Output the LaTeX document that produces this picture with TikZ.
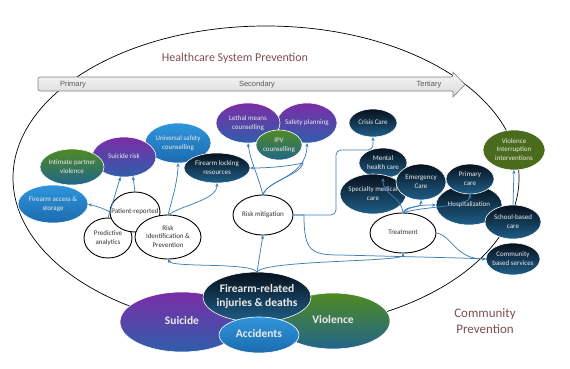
\documentclass[tikz,border=0pt]{standalone}
\usepackage{fontspec}
\setmainfont{Carlito}
\newfontfamily\arialf{Liberation Sans}
\usetikzlibrary{shapes.geometric,arrows.meta,calc}
\definecolor{cblue}{HTML}{3F7FB5}
\definecolor{navyT}{HTML}{07111C}
\definecolor{navyB}{HTML}{1F5E88}
\definecolor{purpT}{HTML}{7B2DA6}
\definecolor{purpB}{HTML}{2F5EAA}
\definecolor{grnT}{HTML}{4F8A22}
\definecolor{grnB}{HTML}{22658A}
\definecolor{lbT}{HTML}{2F95DB}
\definecolor{lbB}{HTML}{1C6BAF}
\definecolor{olive}{HTML}{4A6A1C}
\definecolor{ttl}{HTML}{7E4E4E}
\definecolor{barT}{HTML}{F6F6F6}
\definecolor{barB}{HTML}{DADADA}
\newcommand\ntxt[1]{\makebox[0pt]{\begin{tabular}{@{}c@{}}#1\end{tabular}}}
\begin{document}
\begin{tikzpicture}[x=1pt,y=-1pt,
  E/.style 2 args={ellipse, minimum width=#1, minimum height=#2, inner sep=0pt, outer sep=0pt},
  small/.style={font=\fontsize{7}{8.6}\selectfont},
  big/.style={font=\bfseries\fontsize{11.5}{13.5}\selectfont},
  navy/.style={shade, top color=navyT, bottom color=navyB, draw=white, line width=0.6pt, text=white!92!black},
  purp/.style={shade, top color=purpT, bottom color=purpB, draw=white, line width=0.6pt, text=white!92!black},
  grn/.style={shade, top color=grnT, bottom color=grnB, draw=white, line width=0.6pt, text=white!92!black},
  lblue/.style={shade, top color=lbT, bottom color=lbB, draw=white, line width=0.6pt, text=white!92!black},
  oliv/.style={fill=olive, draw=white, line width=0.6pt, text=white!92!black},
  wht/.style={fill=white, draw=black, line width=0.9pt, text=black!80},
  cn/.style={draw=cblue, line width=0.75pt, -{Stealth[length=4pt,width=3.2pt]}},
  lbl/.style={font=\arialf\fontsize{7.5}{9}\selectfont, text=black!65, inner sep=0pt},
  ttlsty/.style={text=ttl, inner sep=0pt, align=center}
]
\useasboundingbox (0,0) rectangle (570,369);
% big ellipse
\draw[black, line width=0.7pt] (266,178) ellipse [x radius=253pt, y radius=152pt];
% arrow bar
\shade[top color=barT, bottom color=barB, draw=black!50, line width=0.6pt, rounded corners=2pt]
  (38,77) -- (453,77) [sharp corners] -- (453,72) -- (465,84.5) -- (453,97) -- (453,91) [rounded corners=2pt] -- (38,91) -- cycle;
\node[lbl] (prim) at (73,84.5) {Primary};
\node[lbl] (sec) at (257,84.5) {Secondary};
\node[lbl] (ter) at (429,84.5) {Tertiary};
\node[ttlsty, font=\fontsize{12}{14}\selectfont] (title) at (235,58) {Healthcare System Prevention};
\node[ttlsty, font=\fontsize{13}{16}\selectfont] (comm) at (485,321) {Community\\Prevention};

% left cluster
\node[E={70}{38}, lblue, small] (fas) at (53,204) {\ntxt{Firearm access \&\\storage}};
\node[E={66}{40}, lblue, small] (usc) at (178,143) {\ntxt{Universal safety\\counselling}};
\node[E={64}{40}, purp, small] (sr) at (124,157) {\ntxt{Suicide risk}};
\node[E={64}{36}, grn, small] (ipv) at (72,167) {\ntxt{Intimate partner\\violence}};
\node[E={66}{30}, navy, small] (flr) at (217,168) {\ntxt{Firearm locking\\resources}};
\node[E={48}{40}, wht, small] (pa) at (108,238) {\ntxt{Predictive\\analytics}};
\node[E={50}{40}, wht, small] (pr) at (135,212) {\ntxt{Patient-reported}};
\node[E={66}{44}, wht, small] (rip) at (168,237) {\ntxt{Risk\\Identification \&\\Prevention}};

% middle cluster
\node[E={60}{40}, purp, small] (sp) at (307,123) {\ntxt{Safety planning}};
\node[E={64}{40}, purp, small] (lmc) at (248,123) {\ntxt{Lethal means\\counselling}};
\node[E={46}{30}, grn, small] (ipvc) at (279,145) {\ntxt{IPV\\counselling}};
\node[E={60}{40}, wht, small] (rm) at (263,215) {\ntxt{Risk mitigation}};

% right cluster
\node[E={48}{28}, navy, small] (cc) at (373,123) {\ntxt{Crisis Care}};
\node[E={48}{30}, navy, small] (mhc) at (383,163) {\ntxt{Mental\\health care}};
\node[E={66}{40}, navy, small] (smc) at (373,194) {\ntxt{Specialty medical\\care}};
\node[E={66}{40}, navy, small] (hosp) at (469,205) {\ntxt{Hospitalization}};
\node[E={50}{36}, navy, small] (ec) at (421,182) {\ntxt{Emergency\\Care}};
\node[E={48}{30}, navy, small] (pc) at (470,179) {\ntxt{Primary\\care}};
\node[E={66}{40}, wht, small] (trt) at (403,233) {\ntxt{Treatment}};
\node[E={62}{40}, oliv, small] (vii) at (514,150) {\ntxt{Violence\\Interruption\\interventions}};
\node[E={56}{34}, navy, small] (sbc) at (513,222) {\ntxt{School-based\\care}};
\node[E={54}{32}, navy, small] (cbs) at (513,259) {\ntxt{Community\\based services}};

% bottom cluster
\node[E={124}{60}, purp, big] (sui) at (182,322) {\ntxt{Suicide}};
\node[E={114}{56}, grn, big] (vio) at (333,321) {\ntxt{Violence}};
\node[E={108}{50}, navy, big] (fir) at (257,297) {\ntxt{Firearm-related\\injuries \& deaths}};
\node[E={80}{36}, lblue, big] (acc) at (259,335) {\ntxt{Accidents}};

% connectors
\draw[cn] (fir.north) .. controls (250,262) and (172,268) .. (rip.south);
\draw[cn] (fir.north) -- (rm.south);
\draw[cn] (fir.north) .. controls (264,260) and (403,262) .. (trt.south);
\draw[cn, rounded corners=5pt] (rm.east) -- (336,215) -- (336,150) -- (373,150) -- (cc.south);
\draw[cn] (rm.east) -- (304,215) .. controls (304,250) and (310,255) .. (340,255) -- (460,258) -- (cbs.west);
\draw[cn] (trt.east) .. controls (452,235) and (455,259) .. (cbs.west);
\draw[cn] (rm.north) .. controls (258,175) and (250,160) .. (lmc.south);
\draw[cn] (rm.north) .. controls (266,180) and (307,178) .. (sp.south);
\draw[cn] (rm.north) .. controls (268,180) and (300,176) .. (303,163) .. controls (290,166) and (270,168) .. (flr.east);
\draw[cn] (rip.north) .. controls (172,200) and (178,180) .. (usc.south);
\draw[cn] (rip.north) .. controls (182,205) and (217,200) .. (flr.south);
\draw[cn] (pr.west) .. controls (102,208) .. (fas.east);
\draw[cn] (pr.north) -- (sr.-65);
\draw[cn] (pa.north) -- (sr.-100);
\draw[cn] (trt.north) .. controls (401,195) and (383,196) .. (mhc.south);
\draw[cn] (trt.north) .. controls (406,204) and (421,210) .. (ec.south);
\draw[cn] (trt.north) .. controls (410,205) and (425,205) .. (hosp.west);
\draw[cn] (trt.north) .. controls (420,206) and (470,208) .. (pc.south);
\draw[cn] (sbc.north) -- (vii.south);
\end{tikzpicture}
\end{document}
